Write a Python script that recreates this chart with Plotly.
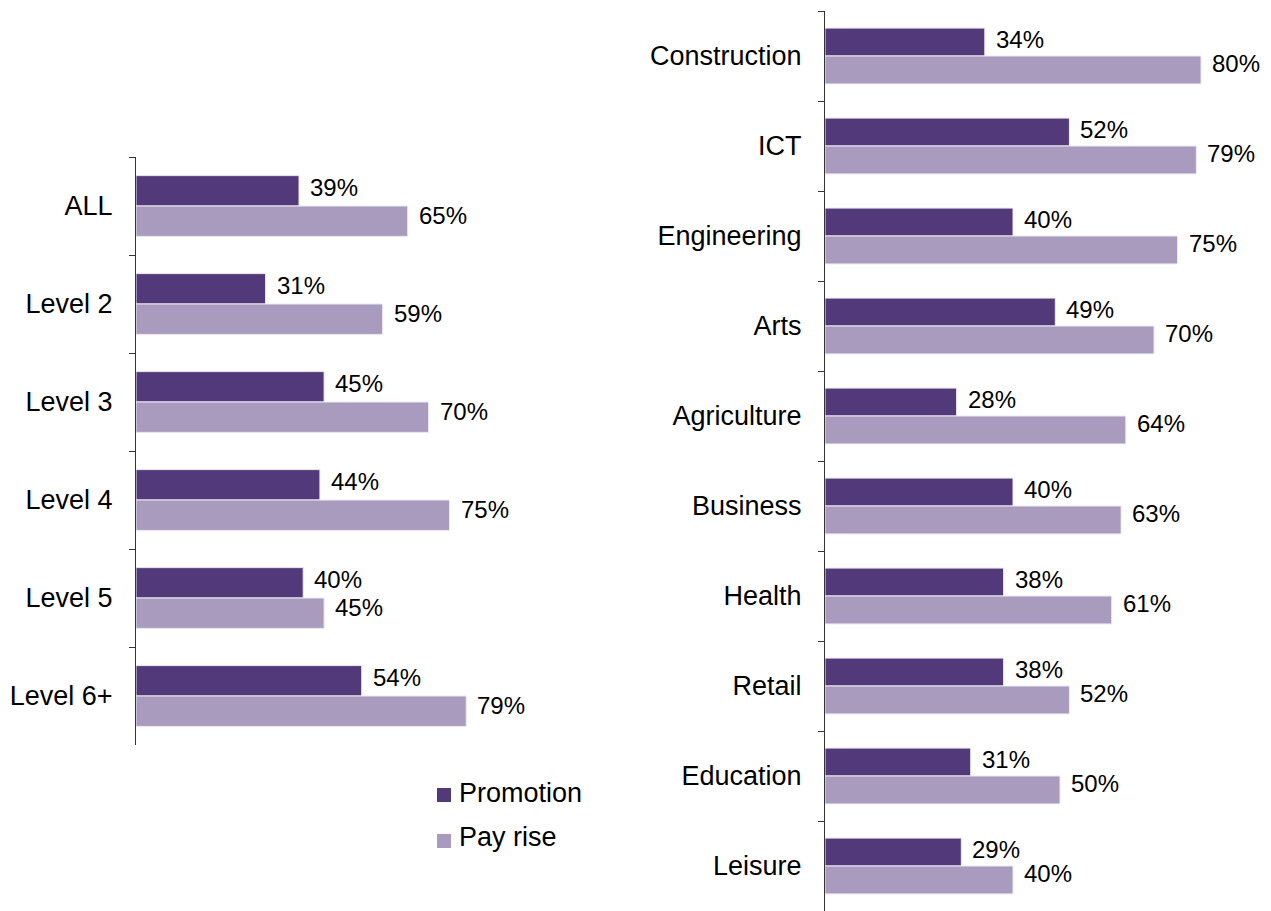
import plotly.graph_objects as go

# Left panel: by qualification level
levels = ["ALL", "Level 2", "Level 3", "Level 4", "Level 5", "Level 6+"]
level_promotion = [39, 31, 45, 44, 40, 54]
level_payrise = [65, 59, 70, 75, 45, 79]

# Right panel: by sector
sectors = ["Construction", "ICT", "Engineering", "Arts", "Agriculture",
           "Business", "Health", "Retail", "Education", "Leisure"]
sector_promotion = [34, 52, 40, 49, 28, 40, 38, 38, 31, 29]
sector_payrise = [80, 79, 75, 70, 64, 63, 61, 52, 50, 40]

series_names = ["Promotion", "Pay rise"]

DARK = "#523a7a"
LIGHT = "#a89bbd"
FONT = "Liberation Sans, Arial, sans-serif"
W, H = 1271, 911
BARGAP = 0.38

fig = go.Figure()

panels = [
    (levels, level_promotion, level_payrise, "x", "y"),
    (sectors, sector_promotion, sector_payrise, "x2", "y2"),
]

for cats, promo, pay, xa, ya in panels:
    for name, vals, color in [(series_names[0], promo, DARK), (series_names[1], pay, LIGHT)]:
        fig.add_trace(go.Bar(
            y=cats, x=vals, orientation="h", name=name,
            marker=dict(color=color, line=dict(color="#ece9f2", width=1)),
            xaxis=xa, yaxis=ya, showlegend=False, hoverinfo="skip",
        ))

# Value labels at the end of each bar
half = (1 - BARGAP) / 4
annotations = []
for cats, promo, pay, xa, ya in panels:
    for i, c in enumerate(cats):
        for v, off, lift in [(promo[i], -half, 3), (pay[i], half, 6)]:
            annotations.append(dict(
                x=v, y=i + off, xref=xa, yref=ya, text=f"{v}%",
                showarrow=False, xanchor="left", yanchor="middle",
                xshift=9, yshift=lift,
                font=dict(size=24, color="#000000", family=FONT),
            ))

# Legend: colour swatches with labels, placed under the left panel
shapes = []
legend_rows = [(series_names[0], DARK, 795, 793), (series_names[1], LIGHT, 841, 837)]
SW = 14
for name, color, sq_cy, txt_cy in legend_rows:
    shapes.append(dict(
        type="rect", xref="paper", yref="paper",
        x0=437 / W, x1=(437 + SW) / W,
        y0=(H - sq_cy - SW / 2) / H, y1=(H - sq_cy + SW / 2) / H,
        fillcolor=color, line=dict(width=0),
    ))
    annotations.append(dict(
        x=457 / W, y=(H - txt_cy) / H, xref="paper", yref="paper",
        text=name, showarrow=False, xanchor="left", yanchor="middle",
        font=dict(size=27, color="#000000", family=FONT),
    ))

axis_common = dict(
    type="category", autorange="reversed", showline=True, linecolor="#333333",
    linewidth=1, ticks="outside", tickson="boundaries", ticklen=6,
    tickcolor="#333333", showgrid=False, zeroline=False,
    tickfont=dict(size=27, color="#000000", family=FONT), ticklabelstandoff=17,
)
xaxis_common = dict(visible=False, showgrid=False, zeroline=False)

fig.update_layout(
    width=W, height=H,
    margin=dict(l=0, r=0, t=0, b=0),
    paper_bgcolor="white", plot_bgcolor="white",
    barmode="group", bargap=BARGAP, bargroupgap=0,
    font=dict(family=FONT, color="#000000"),
    xaxis=dict(domain=[136 / W, 554 / W], range=[0, 100], anchor="y", **xaxis_common),
    yaxis=dict(domain=[(H - 745) / H, (H - 157) / H], anchor="x", **axis_common),
    xaxis2=dict(domain=[825 / W, 1248 / W], range=[0, 90], anchor="y2", **xaxis_common),
    yaxis2=dict(domain=[0, 900 / H], anchor="x2", **axis_common),
    showlegend=False,
    annotations=annotations,
    shapes=shapes,
)

fig.write_html("out.html")
